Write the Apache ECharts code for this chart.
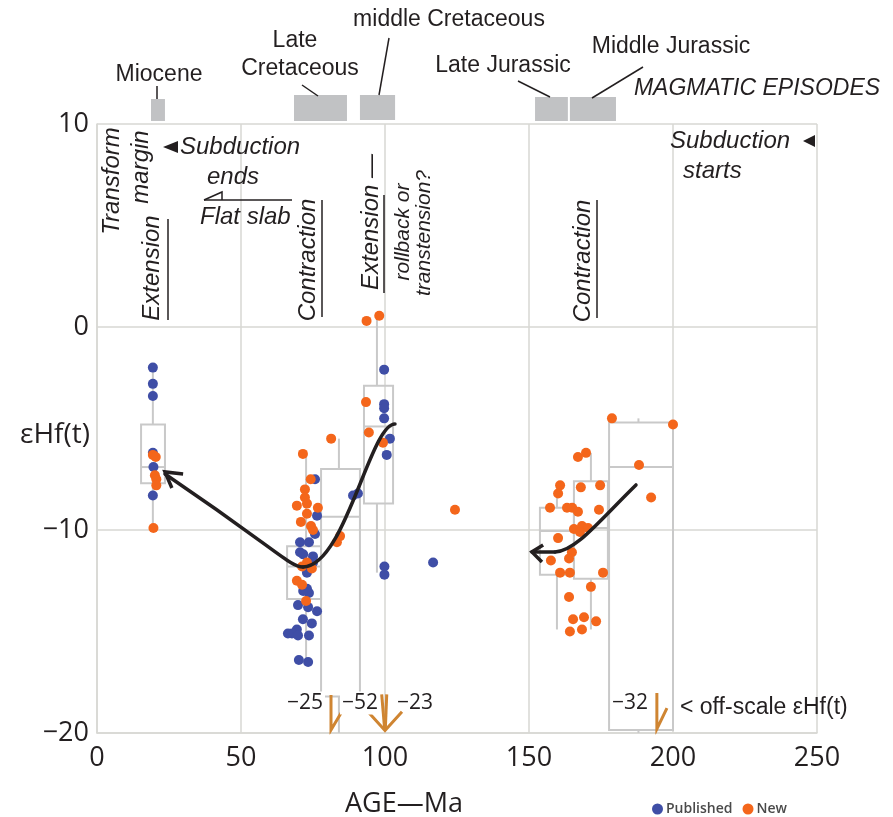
<!DOCTYPE html>
<html>
<head>
<meta charset="utf-8">
<script src="https://cdn.jsdelivr.net/npm/echarts@6/dist/echarts.min.js"></script>
<style>html,body{margin:0;padding:0;background:#fff;}#chart{width:893px;height:817px;}</style>
</head>
<body>
<div id="chart"></div>
<script>
// ---------- data ----------
const xTicks = [0, 50, 100, 150, 200, 250];
const yTicks = [-20, -10, 0, 10];

const published = [
  [19.4,-2.0],[19.4,-2.8],[19.4,-3.4],[19.4,-6.2],[19.6,-6.9],[19.4,-8.3],
  [75.7,-7.5],[76.4,-9.3],[75.7,-10.2],[70.5,-10.6],[73.6,-10.6],[70.5,-11.1],[71.6,-11.2],
  [75.0,-11.3],[75.0,-11.6],[72.9,-12.1],[72.9,-12.9],[73.6,-13.1],[71.6,-13.0],[69.8,-13.7],
  [73.3,-13.8],[76.4,-14.0],[71.5,-14.4],[74.6,-14.6],[69.4,-14.9],[67.7,-15.1],[66.3,-15.1],
  [69.8,-15.2],[73.6,-15.2],[70.1,-16.4],[73.3,-16.5],
  [88.9,-8.3],[90.6,-8.2],
  [99.7,-2.1],[99.7,-3.8],[99.7,-4.0],[99.7,-4.5],[101.7,-5.5],[100.6,-6.3],[99.8,-11.8],[99.8,-12.2],
  [116.7,-11.6]
];
const newData = [
  [19.4,-6.3],[20.4,-6.4],[20.1,-7.3],[20.6,-7.5],[20.6,-7.8],[19.6,-9.9],
  [81.3,-5.5],[71.5,-6.25],[74.2,-7.5],[72.2,-8.0],[72.2,-8.4],[69.4,-8.8],[72.9,-8.7],[76.7,-8.9],
  [72.9,-9.2],[70.8,-9.6],[74.3,-9.8],[75.0,-10.0],[84.4,-10.3],[83.3,-10.6],[72.9,-11.6],
  [74.6,-11.9],[71.2,-11.8],[69.4,-12.5],[71.2,-12.7],[72.6,-13.5],
  [93.6,0.3],[98.0,0.55],[93.4,-3.7],[94.4,-5.2],[99.3,-5.7],
  [124.3,-9.0],
  [178.8,-4.5],[200.0,-4.8],[167.0,-6.4],[169.8,-6.2],[188.2,-6.8],[160.8,-7.8],[160.1,-8.2],
  [168.0,-7.9],[174.7,-7.8],[192.4,-8.4],[157.3,-8.9],[163.2,-8.9],[165.0,-8.9],[167.0,-9.1],
  [174.3,-9.0],[165.6,-9.95],[168.4,-9.8],[170.5,-9.9],[167.7,-10.1],[160.1,-10.4],[164.9,-11.1],
  [163.9,-11.4],[157.6,-11.5],[160.8,-12.1],[164.2,-12.1],[175.7,-12.1],[171.5,-12.8],[163.9,-13.3],
  [165.3,-14.4],[169.1,-14.3],[173.3,-14.5],[164.2,-15.0],[168.4,-14.9]
];

// box plots
const boxLeft     = [15.3, 66.0, 77.8, 92.7, 153.8, 165.6, 177.8];
const boxRight    = [23.6, 77.8, 91.3, 102.8, 165.6, 177.4, 200.0];
const whiskerAge  = [19.4, 72.6, 84.0, 97.2, 159.7, 171.5, 188.0];
const whiskerLow  = [-9.9, -16.5, -20, -12.1, -14.9, -14.9, -20];
const boxQ1       = [-7.7, -13.4, -18.2, -8.7, -12.2, -12.4, -19.85];
const boxMedian   = [-6.9, -11.8, -9.35, -4.9, -10.05, -9.9, -6.9];
const boxQ3       = [-4.8, -10.8, -7.0, -2.9, -8.9, -7.6, -4.7];
const whiskerHigh = [-2.0, -6.2, -5.5, 0.5, -7.7, -6.2, -4.5];

// magmatic episodes (Ma)
const episodeStart = [18.75, 68.4, 91.3, 152.1, 164.2];
const episodeEnd   = [23.6, 86.8, 103.5, 163.5, 180.2];
const episodeTop   = [11.23, 11.43, 11.43, 11.33, 11.33];
const episodeBase  = [10.15, 10.15, 10.2, 10.15, 10.15];

// trend arrows: cubic Bezier chains (start, ctrl, ctrl, end, ctrl, ctrl, end ...)
const trendCret = [[103.47,-4.78],[94.79,-4.78],[86.11,-11.82],[71.53,-11.82],
                   [67.01,-11.82],[63.54,-11.08],[23.61,-7.24]];
const trendJur  = [[187.15,-7.78],[174.65,-9.51],[165.97,-11.08],[159.03,-11.08],
                   [156.4,-11.08],[153.7,-11.08],[151.04,-11.08]];
const arrowHeads = [
  [[29.9,-7.24],[23.6,-7.14],[26.0,-7.93]],
  [[154.9,-10.74],[151.0,-11.08],[154.5,-11.58]]
];
// off-scale markers
const offScale = [
  [[81.25,-18.13],[81.25,-19.85],[85.0,-18.95]],
  [[98.85,-18.1],[99.9,-19.85]],
  [[100.6,-18.1],[100.1,-19.85]],
  [[94.1,-18.95],[100.0,-19.88],[105.9,-18.95]],
  [[194.4,-18.03],[194.4,-19.8],[197.9,-18.77]]
];

// ---------- chart ----------
const chart = echarts.init(document.getElementById('chart'), null, {renderer: 'canvas'});
const INK = '#231f20';
const ANNO = '"Liberation Sans", Arial, Helvetica, sans-serif';
const TICKF = '"Open Sans", "Noto Sans", sans-serif';
const gridColor = '#d7d7d3';
const boxColor = '#c9c9c9';

function txt(x, y, text, o) {
  o = o || {};
  const st = {
    text: text, x: 0, y: 0, fill: o.fill || INK,
    font: (o.italic ? 'italic ' : '') + (o.size || 23) + 'px ' + (o.family || ANNO),
    align: o.align || 'center', textAlign: o.align || 'center',
    verticalAlign: 'middle', textVerticalAlign: 'middle'
  };
  if (o.bg) { st.backgroundColor = o.bg; st.padding = [1, 2]; }
  return {type: 'text', x: x, y: y, rotation: o.rot || 0, z: 100, style: st};
}
function seg(x1, y1, x2, y2, w, c) {
  return {type: 'line', z: 100, shape: {x1: x1, y1: y1, x2: x2, y2: y2}, style: {stroke: c || INK, lineWidth: w || 1.5}};
}
const R = Math.PI / 2;

const graphics = [
  // magmatic episode labels
  txt(159, 75, 'Miocene'),
  txt(295, 41, 'Late'),
  txt(300, 69, 'Cretaceous'),
  txt(449, 20, 'middle Cretaceous'),
  txt(503, 66, 'Late Jurassic'),
  txt(671, 47, 'Middle Jurassic'),
  txt(757, 89, 'MAGMATIC EPISODES', {italic: true}),
  seg(157, 86, 157, 99, 1.5),
  seg(302, 85, 318, 96, 1.5),
  seg(389, 38, 379, 95, 1.5),
  seg(518, 81, 550, 97, 1.5),
  seg(643, 67, 592, 98, 1.5),
  // tectonic annotations
  txt(112, 181, 'Transform', {italic: true, size: 24, rot: R}),
  txt(141, 167, 'margin', {italic: true, size: 24, rot: R}),
  txt(152, 268, 'Extension', {italic: true, size: 24, rot: R}),
  seg(168, 219, 168, 320, 1.5),
  {type: 'polygon', z: 100, shape: {points: [[163, 147], [178, 141], [178, 153]]}, style: {fill: INK}},
  txt(180, 147, 'Subduction', {italic: true, size: 24, align: 'left'}),
  txt(207, 177, 'ends', {italic: true, size: 24, align: 'left'}),
  seg(204, 200, 292, 200, 1.5),
  {type: 'polyline', z: 100, shape: {points: [[204, 200], [222, 192], [222, 200]]}, style: {stroke: INK, lineWidth: 1.5, fill: null}},
  txt(200, 217, 'Flat slab', {italic: true, size: 24, align: 'left'}),
  txt(308, 260, 'Contraction', {italic: true, size: 24, rot: R}),
  seg(322, 200, 322, 317, 1.5),
  txt(371, 222, 'Extension —', {italic: true, size: 24, rot: R}),
  seg(384, 195, 384, 293, 1.5),
  txt(403, 232, 'rollback or', {italic: true, size: 21, rot: R}),
  txt(424, 233, 'transtension?', {italic: true, size: 21, rot: R}),
  txt(583, 261, 'Contraction', {italic: true, size: 24, rot: R}),
  seg(597, 200, 597, 318, 1.5),
  txt(670, 141, 'Subduction', {italic: true, size: 24, align: 'left'}),
  {type: 'polygon', z: 100, shape: {points: [[803, 141], [815, 135], [815, 147]]}, style: {fill: INK}},
  txt(683, 171, 'starts', {italic: true, size: 24, align: 'left'}),
  // off-scale labels
  txt(305, 703, '−25', {size: 21, family: TICKF, bg: '#fff'}),
  txt(360, 703, '−52', {size: 21, family: TICKF, bg: '#fff'}),
  txt(415, 703, '−23', {size: 21, family: TICKF}),
  txt(630, 703, '−32', {size: 21, family: TICKF}),
  txt(680, 708, '< off-scale εHf(t)', {size: 23, align: 'left'}),
  // axis titles
  txt(345, 804, 'AGE—Ma', {size: 27, family: TICKF, align: 'left'}),
  txt(90, 435, 'εHf(t)', {size: 28, family: TICKF, align: 'right'})
];

function bezierChain(pts, api) {
  const c = pts.map(p => api.coord(p));
  const children = [];
  for (let i = 0; i + 3 < c.length; i += 3) {
    children.push({type: 'bezierCurve', shape: {
      x1: c[i][0], y1: c[i][1], cpx1: c[i+1][0], cpy1: c[i+1][1],
      cpx2: c[i+2][0], cpy2: c[i+2][1], x2: c[i+3][0], y2: c[i+3][1]},
      style: {stroke: INK, lineWidth: 3.5, fill: null, lineCap: 'round'}});
  }
  return children;
}

const option = {
  animation: false,
  backgroundColor: '#fff',
  grid: {left: 97, right: 76, top: 124, bottom: 84, containLabel: false},
  xAxis: {
    type: 'value', min: 0, max: 250, interval: 50,
    axisLine: {show: true, onZero: false, lineStyle: {color: gridColor, width: 1.5}},
    axisTick: {show: false},
    splitLine: {show: true, lineStyle: {color: gridColor, width: 1.5}},
    axisLabel: {color: INK, fontSize: 27, fontFamily: TICKF, margin: 12,
      formatter: v => xTicks.indexOf(v) >= 0 ? String(v) : ''}
  },
  yAxis: {
    type: 'value', min: -20, max: 10, interval: 10,
    axisLine: {show: true, onZero: false, lineStyle: {color: gridColor, width: 1.5}},
    axisTick: {show: false},
    splitLine: {show: true, lineStyle: {color: gridColor, width: 1.5}},
    axisLabel: {color: INK, fontSize: 27, fontFamily: TICKF, margin: 8,
      formatter: v => yTicks.indexOf(v) >= 0 ? (v < 0 ? '−' + Math.abs(v) : String(v)) : ''}
  },
  legend: {
    data: ['Published', 'New'], left: 647, top: 797, icon: 'circle',
    itemWidth: 11, itemHeight: 11, itemGap: 10,
    textStyle: {fontFamily: TICKF, fontSize: 14, fontWeight: 600, color: '#4a4a4a', padding: [0, 0, 0, -2]}
  },
  graphic: graphics,
  series: [
    {
      type: 'custom', name: 'episodes', clip: false, z: 1, silent: true,
      data: episodeStart.map((s, i) => [s, episodeEnd[i], episodeTop[i], episodeBase[i]]),
      encode: {x: [0, 1], y: [2, 3]},
      renderItem: function (params, api) {
        const p1 = api.coord([api.value(0), api.value(2)]);
        const p2 = api.coord([api.value(1), api.value(3)]);
        return {type: 'rect', shape: {x: p1[0], y: p1[1], width: p2[0] - p1[0], height: p2[1] - p1[1]},
          style: {fill: '#c1c2c4'}};
      }
    },
    {
      type: 'custom', name: 'boxes', clip: false, z: 2, silent: true,
      data: boxLeft.map((l, i) => [l, boxRight[i], whiskerAge[i], whiskerLow[i], boxQ1[i], boxMedian[i], boxQ3[i], whiskerHigh[i]]),
      encode: {x: [0, 1, 2], y: [3, 4, 5, 6, 7]},
      renderItem: function (params, api) {
        const xl = api.coord([api.value(0), 0])[0];
        const xr = api.coord([api.value(1), 0])[0];
        const xw = api.coord([api.value(2), 0])[0];
        const yLow = api.coord([0, api.value(3)])[1];
        const yQ1 = api.coord([0, api.value(4)])[1];
        const yMed = api.coord([0, api.value(5)])[1];
        const yQ3 = api.coord([0, api.value(6)])[1];
        const yHigh = api.coord([0, api.value(7)])[1];
        const st = {stroke: boxColor, lineWidth: 2, fill: null};
        return {type: 'group', children: [
          {type: 'line', shape: {x1: xw, y1: yQ3, x2: xw, y2: yHigh}, style: st},
          {type: 'line', shape: {x1: xw, y1: yQ1, x2: xw, y2: yLow}, style: st},
          {type: 'rect', shape: {x: xl, y: yQ3, width: xr - xl, height: yQ1 - yQ3}, style: {stroke: boxColor, lineWidth: 2, fill: 'rgba(255,255,255,0)'}},
          {type: 'line', shape: {x1: xl, y1: yMed, x2: xr, y2: yMed}, style: st}
        ]};
      }
    },
    {
      type: 'scatter', name: 'Published', data: published, symbol: 'circle', symbolSize: 10, z: 3,
      itemStyle: {color: '#3f4ea6', opacity: 1}
    },
    {
      type: 'scatter', name: 'New', data: newData, symbol: 'circle', symbolSize: 10, z: 4,
      itemStyle: {color: '#f4661b', opacity: 1}
    },
    {
      type: 'custom', name: 'trends', clip: false, z: 5, silent: true,
      data: [[0, 0]],
      renderItem: function (params, api) {
        return {type: 'group', children: bezierChain(trendCret, api).concat(bezierChain(trendJur, api))};
      }
    },
    {
      type: 'lines', name: 'arrowHeads', coordinateSystem: 'cartesian2d', polyline: true, z: 5, silent: true,
      data: arrowHeads.map(c => ({coords: c})),
      lineStyle: {color: INK, width: 3.5, opacity: 1, join: 'miter'}
    },
    {
      type: 'lines', name: 'offScale', coordinateSystem: 'cartesian2d', polyline: true, z: 6, silent: true,
      data: offScale.map(c => ({coords: c})),
      lineStyle: {color: '#cf8532', width: 3, opacity: 1}
    }
  ]
};
chart.setOption(option);
</script>
</body>
</html>
